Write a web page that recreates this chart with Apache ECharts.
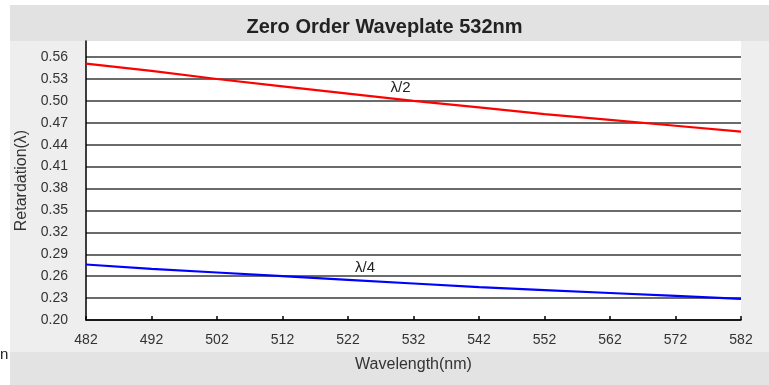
<!DOCTYPE html>
<html><head><meta charset="utf-8">
<style>html,body{margin:0;padding:0;background:#fff;}#c{width:769px;height:385px;}</style>
<script src="https://cdn.jsdelivr.net/npm/echarts@6/dist/echarts.min.js"></script>
</head><body><div id="c"></div>
<script>
var wavelengths = ['482','492','502','512','522','532','542','552','562','572','582'];
var halfWave = [0.551,0.541,0.530,0.520,0.510,0.500,0.491,0.482,0.474,0.466,0.458];
var quarterWave = [0.276,0.270,0.265,0.260,0.255,0.250,0.245,0.241,0.237,0.233,0.229];
var yTicks = [0.20,0.23,0.26,0.29,0.32,0.35,0.38,0.41,0.44,0.47,0.50,0.53,0.56];
var halfLabel = {text:'λ/2', x:'532', y:0.518};
var quarterLabel = {text:'λ/4', x:'522', y:0.271};

var chart = echarts.init(document.getElementById('c'));
var font = 'Liberation Sans, Arial, sans-serif';
var lineColors = yTicks.map(function(){return '#3a3a3a';});
lineColors.push('rgba(0,0,0,0)');
chart.setOption({
  animation:false,
  backgroundColor:'#ffffff',
  graphic:[
    {type:'rect',z:-10,shape:{x:10,y:5,width:759,height:380},style:{fill:'#eeeeee'}},
    {type:'rect',z:-9,shape:{x:10,y:5,width:759,height:36},style:{fill:'#e2e2e2'}},
    {type:'rect',z:-9,shape:{x:10,y:352,width:759,height:33},style:{fill:'#e3e3e3'}},
    {type:'rect',z:-8,shape:{x:86,y:41,width:655,height:279},style:{fill:'#ffffff'}},
    {type:'text',left:0,top:347,style:{text:'n',font:'15px '+font,fill:'#222'}}
  ],
  title:{text:'Zero Order Waveplate 532nm',left:'center',top:12,
    textStyle:{fontFamily:font,fontSize:20,fontWeight:'bold',color:'#222'}},
  grid:{left:86,right:28,top:41,bottom:65},
  xAxis:{type:'category',data:wavelengths,boundaryGap:false,
    name:'Wavelength(nm)',nameLocation:'middle',nameGap:37,
    nameTextStyle:{fontFamily:font,fontSize:16,color:'#333'},
    axisLine:{lineStyle:{color:'#000',width:1.5}},
    axisTick:{inside:true,length:4,lineStyle:{color:'#000',width:1.5}},
    axisLabel:{fontFamily:font,fontSize:14,color:'#333',margin:13},
    splitLine:{show:false}},
  yAxis:{type:'value',min:0.20,max:0.582,interval:0.03,
    name:'Retardation(λ)',nameLocation:'middle',nameGap:55,nameRotate:90,
    nameTextStyle:{fontFamily:font,fontSize:16,color:'#333'},
    axisLine:{show:true,lineStyle:{color:'#000',width:1.5}},
    axisTick:{show:false},
    axisLabel:{fontFamily:font,fontSize:14,color:'#333',margin:18,
      formatter:function(v){return v>0.575?'':v.toFixed(2);}},
    splitLine:{show:true,lineStyle:{color:lineColors,width:1.5}}},
  series:[
    {type:'line',data:halfWave,symbol:'none',lineStyle:{color:'#ff0000',width:2.2},
     markPoint:{symbol:'circle',symbolSize:0,data:[{coord:[halfLabel.x,halfLabel.y],
       label:{show:true,formatter:halfLabel.text,offset:[-13,0],fontFamily:font,fontSize:15,color:'#222'}}]}},
    {type:'line',data:quarterWave,symbol:'none',lineStyle:{color:'#0000ff',width:2.2},
     markPoint:{symbol:'circle',symbolSize:0,data:[{coord:[quarterLabel.x,quarterLabel.y],
       label:{show:true,formatter:quarterLabel.text,offset:[17,0],fontFamily:font,fontSize:15,color:'#222'}}]}}
  ]
});
</script></body></html>
